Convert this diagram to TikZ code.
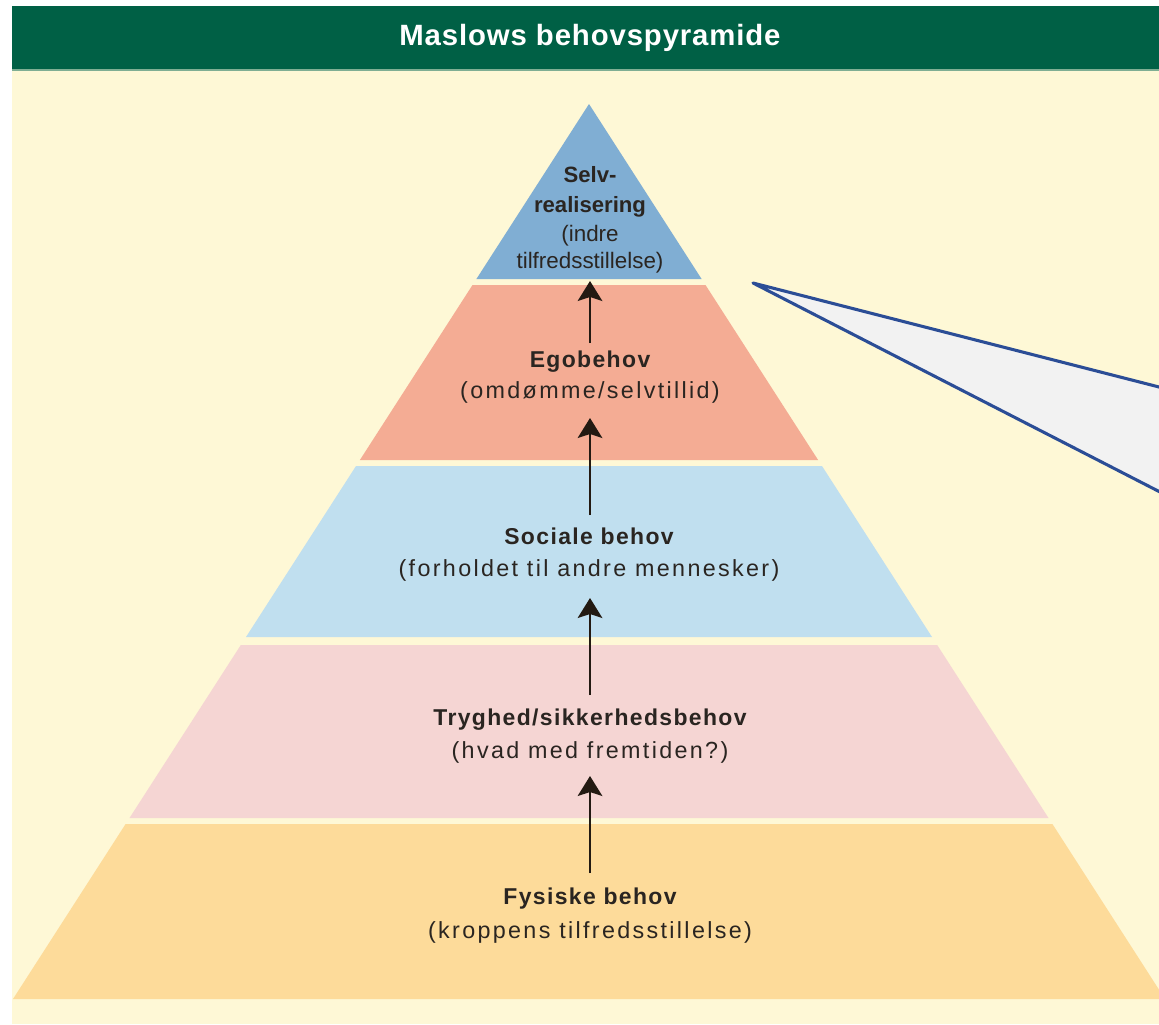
\documentclass[tikz,border=0pt]{standalone}
\usepackage{fontspec}
\setmainfont{Liberation Sans}
\newfontfamily\lblfont[LetterSpace=6]{Liberation Sans}
\newfontfamily\regfont[LetterSpace=10]{Liberation Sans}
\newfontfamily\topfont{Liberation Sans}
\newfontfamily\titlefont[LetterSpace=3]{Liberation Sans}
\usetikzlibrary{arrows.meta}
\definecolor{hdr}{HTML}{006045}
\definecolor{hdrline}{HTML}{7FAE93}
\definecolor{cream}{HTML}{FEF8D6}
\definecolor{lvtop}{HTML}{80AED3}
\definecolor{lvego}{HTML}{F4AC94}
\definecolor{lvsoc}{HTML}{C0DFEF}
\definecolor{lvsik}{HTML}{F5D5D3}
\definecolor{lvfys}{HTML}{FDDB9A}
\definecolor{callfill}{HTML}{F2F2F2}
\definecolor{callline}{HTML}{2B4D96}
\definecolor{txt}{HTML}{2A2521}
\definecolor{arr}{HTML}{231A12}
\begin{document}
\begin{tikzpicture}[x=0.75pt,y=-0.75pt,
  titlestyle/.style={anchor=base,inner sep=0pt,text=white,font=\titlefont\bfseries\fontsize{22}{26}\selectfont},
  boldlbl/.style={anchor=base,inner sep=0pt,text=txt,font=\lblfont\bfseries\fontsize{17.2}{20}\selectfont},
  reglbl/.style={anchor=base,inner sep=0pt,text=txt,font=\regfont\fontsize{17.5}{20}\selectfont},
  topbold/.style={anchor=base,inner sep=0pt,text=txt,font=\topfont\bfseries\fontsize{16.6}{20}\selectfont},
  topreg/.style={anchor=base,inner sep=0pt,text=txt,font=\topfont\fontsize{16.8}{20}\selectfont},
  uparrow/.style={draw=arr,line width=1.5pt,-{Stealth[length=15pt,width=18.5pt,inset=3pt]}},
  callborder/.style={draw=callline,line width=2.3pt,line join=round}
]
\useasboundingbox (0,0) rectangle (1159,1024);
\fill[white] (0,0) rectangle (1159,1024);
\fill[cream] (12,70) rectangle (1159,1024);
\fill[hdr] (12,6) rectangle (1159,70);
\draw[hdrline,line width=0.9pt] (12,70) -- (1159,70);
\node[titlestyle] (title) at (590,46) {Maslows behovspyramide};

\begin{scope}
\clip (12,71) rectangle (1159,1024);
\fill[lvtop] (589,104) -- (701.6,279) -- (476.4,279) -- cycle;
\fill[lvego] (472.5,285) -- (705.5,285) -- (818.1,460) -- (359.9,460) -- cycle;
\fill[lvsoc] (356,466) -- (822,466) -- (932,637) -- (246,637) -- cycle;
\fill[lvsik] (240.8,645) -- (937.2,645) -- (1048.5,818) -- (129.5,818) -- cycle;
\fill[lvfys] (125.6,824) -- (1052.4,824) -- (1165,999) -- (13,999) -- cycle;
\end{scope}

% callout
\fill[callfill] (753,283) -- (1159,387) -- (1159,492) -- cycle;
\draw[callborder] (1161,387.5) -- (753,283) -- (1161,492.5);

% labels
\node[topbold] (s1) at (590,182) {Selv-};
\node[topbold] (s2) at (590,212) {realisering};
\node[topreg] (s3) at (590,241) {(indre};
\node[topreg] (s4) at (590,268) {tilfredsstillelse)};

\node[boldlbl] (e1) at (590,367) {Egobehov};
\node[reglbl] (e2) at (590,398) {(omdømme/selvtillid)};

\node[boldlbl] (o1) at (589,544) {Sociale behov};
\node[reglbl] (o2) at (589,576) {(forholdet til andre mennesker)};

\node[boldlbl] (t1) at (590,725) {Tryghed/sikkerhedsbehov};
\node[reglbl] (t2) at (590,758) {(hvad med fremtiden?)};

\node[boldlbl] (f1) at (590,904) {Fysiske behov};
\node[reglbl] (f2) at (590,938) {(kroppens tilfredsstillelse)};

% arrows
\coordinate (a1s) at (590,873); \coordinate (a1e) at (590,776);
\coordinate (a2s) at (590,695); \coordinate (a2e) at (590,598);
\coordinate (a3s) at (590,515); \coordinate (a3e) at (590,418);
\coordinate (a4s) at (590,343); \coordinate (a4e) at (590,281);
\draw[uparrow] (a1s) -- (a1e);
\draw[uparrow] (a2s) -- (a2e);
\draw[uparrow] (a3s) -- (a3e);
\draw[uparrow] (a4s) -- (a4e);
\end{tikzpicture}
\end{document}
